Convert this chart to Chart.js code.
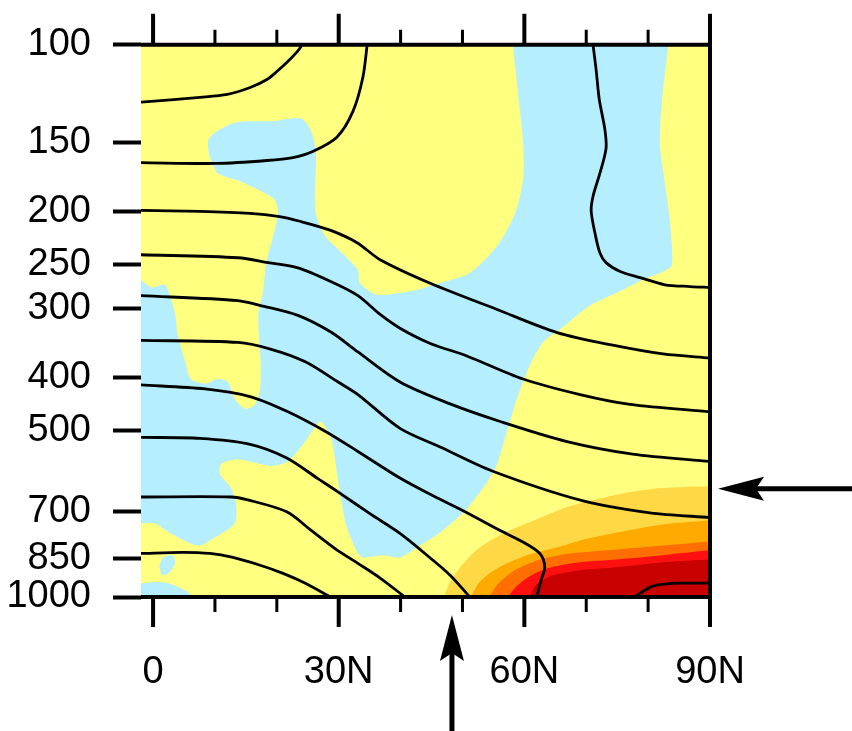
<!DOCTYPE html>
<html>
<head>
<meta charset="utf-8">
<script src="https://cdn.jsdelivr.net/npm/chart.js"></script>
<style>
  html, body { margin: 0; padding: 0; background: #fff; }
  canvas { display: block; }
</style>
</head>
<body>
<canvas id="myChart" width="852" height="731"></canvas>
<script>
// assi: latitudine (gradi N) e pressione (hPa)
const latMajor = [0, 30, 60, 90];
const latLabels = ["0", "30N", "60N", "90N"];
const latMinor = [10, 20, 40, 50, 70, 80];
const presTicks = [100, 150, 200, 250, 300, 400, 500, 700, 850, 1000];

// posizione delle due frecce
const arrowLat = 48.3;
const arrowPres = 637;

// isolinee nere [lat, hPa]
const line1 = [[-1.95, 127], [7.6, 124.5], [12, 123], [15.7, 119.5], [18.4, 115.6], [20, 111.8], [21.6, 107.7], [23.3, 102.9], [24.1, 100]];
const line2 = [[-1.95, 163.5], [10.3, 164], [18.4, 162], [22.6, 160], [25.8, 156], [29.7, 147], [32.3, 132], [33.9, 114.6], [34.6, 100]];
const line3 = [[-1.95, 199.4], [7.6, 200.3], [15.7, 202], [20.2, 204.5], [23.7, 208.7], [28.6, 216.6], [32.9, 228], [36.7, 245], [44.7, 270], [55.6, 301.6], [65.3, 332], [74.3, 350], [82.4, 363], [90, 369]];
const line4 = [[-1.95, 240], [13.7, 243], [18.6, 248], [23.4, 253.5], [28.8, 268.6], [33.1, 284.6], [36.7, 307.8], [39.9, 326], [44.7, 347], [50.7, 366], [59.8, 403], [69, 430], [77.1, 448], [90, 462]];
const line5 = [[-1.95, 284.6], [13.7, 290.5], [17.4, 296.6], [23.4, 309], [28.8, 331.6], [33.1, 360], [39.9, 408], [48, 447], [56.1, 481], [66.9, 523], [77.5, 551], [90, 568]];
const line6 = [[-1.95, 343], [13.7, 346], [19.1, 356], [24.6, 375], [29.9, 408], [33.1, 430], [39.9, 495], [46.4, 535], [54.9, 592], [69.5, 670], [80.3, 704], [90, 718]];
const line7 = [[-1.95, 413], [8.4, 420], [15.8, 434], [21.8, 462], [27.8, 501], [33.1, 545], [39.9, 609], [44.7, 651], [50.1, 698], [56.1, 758], [59.3, 790], [62.5, 834], [63.3, 883], [62.7, 932], [62, 1000]];
const line8 = [[-1.95, 514], [7.6, 516], [15.7, 529], [21.6, 560], [26.7, 611], [29.7, 643], [35.1, 707], [39.9, 767], [44.7, 848], [48, 913], [51.2, 1000]];
const line9 = [[-1.95, 659], [12.6, 659], [15.3, 667], [21.6, 701], [25.5, 757], [29.4, 817], [33.1, 869], [36.7, 924], [40.7, 1000]];
const line10 = [[-1.95, 834], [4.8, 830], [9.2, 834], [12.9, 848], [17.3, 876], [21, 906], [24.6, 944], [28.1, 992], [28.5, 1000]];
const lineW = [[71.1, 100], [71.6, 111], [72.1, 125.5], [73, 142], [73.2, 154], [72.2, 171], [71.1, 188], [70.8, 200], [71.4, 219], [72.2, 238], [73.2, 248], [75.4, 257], [78.7, 264], [82.7, 272], [86.8, 274], [90, 275]];
const line11 = [[77.9, 1000], [79.5, 971], [81.4, 952], [85.1, 944], [90, 944]];

// zone azzurre (valori negativi)
const blueMain = [
  [58.2, 96], [83.2, 96], [83.2, 101], [82.2, 128], [81.9, 151], [82.7, 178], [83.5, 208], [83.8, 251],
  [81.9, 259], [79.2, 266], [75, 281], [70.6, 296.6], [65.8, 327.6], [63, 346], [60.9, 380], [58.8, 437.5],
  [57.2, 501], [55.6, 574.5], [54.1, 617], [50.4, 698], [46.4, 764], [43.1, 807], [39.9, 848], [37.2, 840],
  [33.9, 848], [33.1, 834], [31.8, 774], [31, 727], [29.9, 617], [28.8, 516], [27, 481], [24.6, 523],
  [21.8, 568], [19.1, 579], [13.7, 563], [11, 574.5], [10.8, 599], [12.6, 635], [13.4, 678], [13.2, 736],
  [10, 780], [7.3, 807], [2.9, 767], [0.3, 736], [-4, 727], [-4, 259], [-0.3, 275], [1.9, 272],
  [2.9, 289], [3.6, 309], [4, 336], [5.2, 375], [6.1, 403], [8.4, 411], [10.5, 403], [12.1, 408],
  [13.2, 437.5], [14.9, 456], [16.5, 448], [17.3, 420], [17.4, 375], [17, 309], [17.8, 278], [18.3, 248],
  [19.1, 229], [20.2, 202], [19.7, 191], [17.4, 184], [13.7, 176], [10.5, 171], [9.2, 160], [8.9, 149],
  [10.5, 143], [13.7, 138], [19.1, 137.5], [23.9, 136], [25.5, 143], [26.3, 156], [26.2, 181], [26.3, 202],
  [27.8, 222], [31, 241], [33.1, 256], [33.4, 270], [36.2, 283.5], [42, 279], [46.4, 270], [51.2, 259],
  [55.6, 231.5], [58.5, 202], [59.8, 175], [59.8, 151], [59, 123], [58.2, 101]
];
const blueCorner = [[-4, 952], [-0.3, 940], [2.4, 944], [4.4, 963], [6, 988], [6.9, 1040], [-4, 1040]];
const blueHole = [[1.5, 848], [3.1, 840], [3.6, 865], [2.7, 902], [1.5, 913], [1, 880]];

// zone calde vicino al suolo alle alte latitudini
const warm1 = [[46.5, 1040], [47, 1000], [48, 940], [49.9, 876], [52.8, 813], [56.2, 771], [61.1, 730], [66.6, 689], [70.6, 670], [76.3, 648], [82.4, 635], [90, 630], [92, 628], [92, 1040]];
const warm2 = [[51, 1040], [51.4, 1000], [52.5, 948], [54.4, 906], [57.2, 869], [60.9, 837], [65.3, 813], [69, 790], [75, 764], [82.4, 739], [90, 727], [92, 726], [92, 1040]];
const warm3 = [[54, 1040], [54.4, 1000], [55.7, 948], [58.2, 898], [60.9, 869], [63.3, 851], [67.4, 834], [75, 820], [82.4, 807], [90, 793], [92, 793], [92, 1040]];
const warm4 = [[57, 1040], [57.4, 1000], [58.5, 963], [60.6, 921], [63.7, 887], [69, 865], [75, 855], [82.4, 840], [90, 823], [92, 822], [92, 1040]];
const warm5 = [[60.7, 1040], [60.9, 1000], [61.7, 956], [64.1, 917], [69, 894], [75, 883], [82.4, 865], [90, 855], [92, 855], [92, 1040]];

const toXY = arr => arr.map(([x, y]) => ({ x, y }));

function zona(arr, colore, ordine) {
  return {
    data: toXY(arr),
    showLine: true,
    fill: "shape",
    backgroundColor: colore,
    borderWidth: 0,
    pointRadius: 0,
    tension: 0.25,
    order: ordine
  };
}

function isolinea(arr) {
  return {
    data: toXY(arr),
    showLine: true,
    fill: false,
    borderColor: "#000",
    borderWidth: 2.8,
    pointRadius: 0,
    tension: 0.3,
    order: 0
  };
}

function freccia(ctx, x0, y0, x1, y1) {
  const ang = Math.atan2(y1 - y0, x1 - x0);
  const c = Math.cos(ang), s = Math.sin(ang);
  const len = 46, half = 12, notch = 38;
  ctx.lineWidth = 5;
  ctx.beginPath();
  ctx.moveTo(x0, y0);
  ctx.lineTo(x1 - c * notch, y1 - s * notch);
  ctx.stroke();
  const bx = x1 - c * len, by = y1 - s * len;
  ctx.beginPath();
  ctx.moveTo(x1, y1);
  ctx.lineTo(bx - s * half, by + c * half);
  ctx.lineTo(x1 - c * notch, y1 - s * notch);
  ctx.lineTo(bx + s * half, by - c * half);
  ctx.closePath();
  ctx.fill();
}

// sfondo giallo, cornice, tacche e frecce
const cornice = {
  id: "cornice",
  beforeDatasetsDraw(chart) {
    const { ctx, chartArea: a } = chart;
    ctx.save();
    ctx.fillStyle = "#FFFF80";
    ctx.fillRect(a.left, a.top, a.right - a.left, a.bottom - a.top);
    ctx.restore();
  },
  afterDatasetsDraw(chart) {
    const { ctx, chartArea: a, scales } = chart;
    const x = scales.x, y = scales.y;
    ctx.save();
    ctx.strokeStyle = "#000";
    ctx.fillStyle = "#000";
    ctx.lineWidth = 4;
    ctx.beginPath();
    ctx.moveTo(a.left, a.top);
    ctx.lineTo(a.right, a.top);
    ctx.lineTo(a.right, a.bottom);
    ctx.lineTo(a.left, a.bottom);
    ctx.stroke();

    latMajor.forEach(v => {
      const px = x.getPixelForValue(v);
      ctx.lineWidth = 4;
      ctx.beginPath();
      ctx.moveTo(px, a.top);
      ctx.lineTo(px, a.top - 31);
      ctx.moveTo(px, a.bottom);
      ctx.lineTo(px, a.bottom + 30);
      ctx.stroke();
    });
    latMinor.forEach(v => {
      const px = x.getPixelForValue(v);
      ctx.lineWidth = 3;
      ctx.beginPath();
      ctx.moveTo(px, a.top);
      ctx.lineTo(px, a.top - 15);
      ctx.moveTo(px, a.bottom);
      ctx.lineTo(px, a.bottom + 15);
      ctx.stroke();
    });

    const ax = x.getPixelForValue(arrowLat);
    const ay = y.getPixelForValue(arrowPres);
    freccia(ctx, ax, chart.height, ax, a.bottom + 18);
    freccia(ctx, chart.width, ay, a.right + 8, ay);
    ctx.restore();
  }
};

const fontAssi = { family: "'Liberation Sans', Arial, sans-serif", size: 38 };

new Chart(document.getElementById("myChart"), {
  type: "scatter",
  data: {
    datasets: [
      isolinea(line1), isolinea(line2), isolinea(line3), isolinea(line4),
      isolinea(line5), isolinea(line6), isolinea(line7), isolinea(line8),
      isolinea(line9), isolinea(line10), isolinea(lineW), isolinea(line11),
      zona(warm5, "#C80000", 2),
      zona(warm4, "#FF1010", 3),
      zona(warm3, "#FF6E00", 4),
      zona(warm2, "#FFAA00", 5),
      zona(warm1, "#FFD845", 6),
      zona(blueHole, "#B4EEFF", 7),
      zona(blueCorner, "#B4EEFF", 8),
      zona(blueMain, "#B4EEFF", 9)
    ]
  },
  options: {
    responsive: false,
    animation: false,
    devicePixelRatio: 1,
    layout: { padding: { top: 40, right: 142, left: 0, bottom: 0 } },
    elements: { line: { capBezierPoints: false } },
    plugins: {
      legend: { display: false },
      tooltip: { enabled: false }
    },
    scales: {
      x: {
        type: "linear",
        position: "bottom",
        min: -1.95,
        max: 90,
        afterBuildTicks: s => { s.ticks = latMajor.map(v => ({ value: v })); },
        afterFit: s => { s.height = 134; },
        grid: { display: false },
        border: { display: false },
        ticks: {
          autoSkip: false,
          maxRotation: 0,
          padding: 45,
          color: "#000",
          font: fontAssi,
          callback: (v, i) => latLabels[i]
        }
      },
      y: {
        type: "logarithmic",
        reverse: true,
        min: 100,
        max: 1000,
        afterBuildTicks: s => { s.ticks = presTicks.map(v => ({ value: v })); },
        afterFit: s => { s.width = 141; },
        grid: {
          display: true,
          drawOnChartArea: false,
          drawTicks: true,
          tickLength: 28,
          tickWidth: 4,
          tickColor: "#000"
        },
        border: { display: false },
        ticks: {
          autoSkip: false,
          padding: 22,
          color: "#000",
          font: fontAssi,
          callback: v => String(v)
        }
      }
    }
  },
  plugins: [cornice]
});
</script>
</body>
</html>
